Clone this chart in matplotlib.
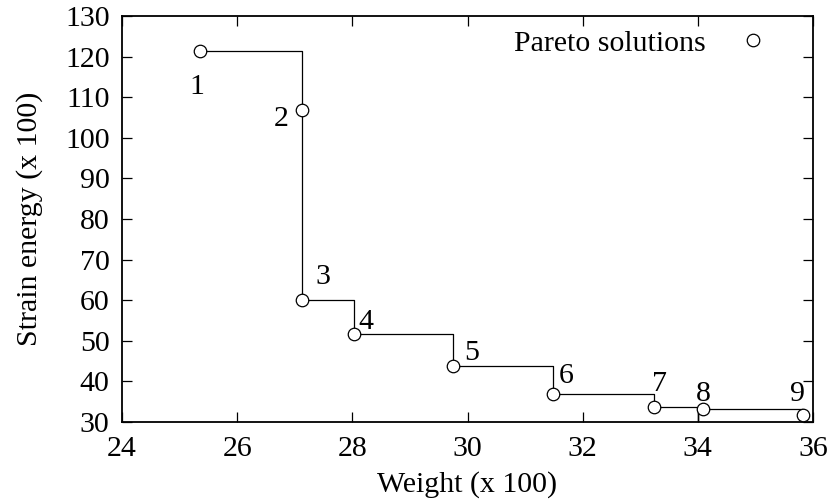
import numpy as np
import matplotlib
matplotlib.use("Agg")
import matplotlib.pyplot as plt

# Pareto solutions (Weight x100, Strain energy x100)
weight = [25.35, 27.12, 27.13, 28.02, 29.75, 31.49, 33.23, 34.09, 35.82]
strain = [121.4, 106.8, 60.0, 51.6, 43.9, 37.0, 33.6, 33.2, 31.65]
point_labels = ["1", "2", "3", "4", "5", "6", "7", "8", "9"]

# staircase line vertices (drawn with steps-post)
step_x = [25.35, 27.12, 28.02, 29.75, 31.49, 33.23, 34.0, 34.0, 35.82]
step_y = [121.4, 60.0, 51.6, 43.9, 37.0, 33.6, 0.0, 33.3, 31.65]

xticks = [24, 26, 28, 30, 32, 34, 36]
yticks = [30, 40, 50, 60, 70, 80, 90, 100, 110, 120, 130]

# label offsets in points (style)
label_offsets = [(-2, -26), (-15, -6), (15, 17), (9, 9), (13, 9),
                 (9, 13), (4, 17), (0, 11), (-4, 15)]

FS = 21.5
plt.rcParams['font.family'] = ['Liberation Serif', 'DejaVu Serif']
plt.rcParams['font.size'] = FS

fig = plt.figure(figsize=(8.36, 5.0), dpi=100)
ax = fig.add_axes([0.146, 0.156, 0.8265, 0.812])

ax.plot(step_x, step_y, drawstyle='steps-post', color='black', lw=0.9)
ax.plot(weight, strain, linestyle='none', marker='o', ms=9,
        mfc='white', mec='black', mew=0.9, label='Pareto solutions', zorder=3)

for x, y, t, off in zip(weight, strain, point_labels, label_offsets):
    ax.annotate(t, (x, y), xytext=off, textcoords='offset points',
                ha='center', va='center', fontsize=FS)

ax.set_xlim(24, 36)
ax.set_ylim(30, 130)
ax.set_xticks(xticks)
ax.set_yticks(yticks)
ax.tick_params(direction='in', length=7, width=0.9, top=True, right=True,
               labelsize=FS)
ax.tick_params(axis='x', pad=10)
ax.tick_params(axis='y', pad=9)
for s in ax.spines.values():
    s.set_linewidth(1.3)

ax.set_xlabel('Weight (x 100)', fontsize=FS, labelpad=6.5)
ax.set_ylabel('Strain energy (x 100)', fontsize=FS, labelpad=16)

leg = ax.legend(loc='upper right', bbox_to_anchor=(1.0, 1.017), frameon=False,
                markerfirst=False, handlelength=2.6, handletextpad=0.3,
                borderaxespad=0.3, fontsize=FS)

fig.savefig('out.png', dpi=100)
